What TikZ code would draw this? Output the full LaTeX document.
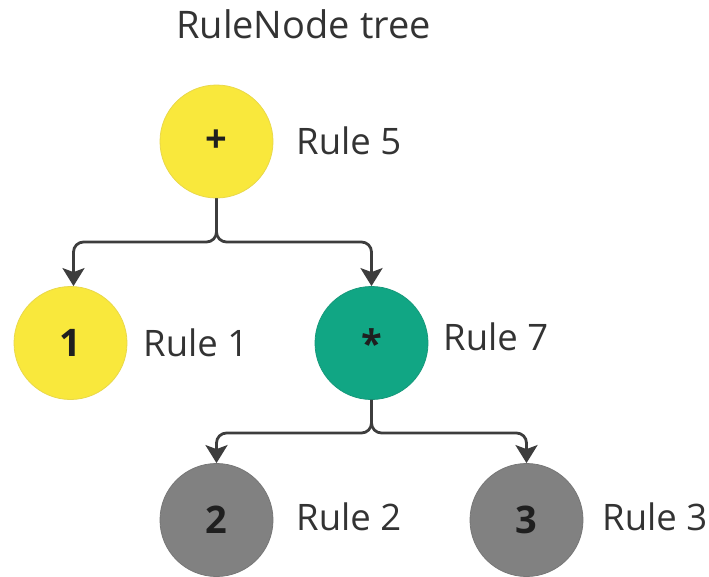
\documentclass[tikz,border=0pt]{standalone}
\usepackage{fontspec}
\setmainfont{Open Sans}
\usetikzlibrary{arrows.meta}
\definecolor{ryellow}{HTML}{F9E83C}
\definecolor{ryellowb}{HTML}{E9D84A}
\definecolor{rteal}{HTML}{11A684}
\definecolor{rtealb}{HTML}{16997B}
\definecolor{rgray}{HTML}{818181}
\definecolor{rgrayb}{HTML}{777777}
\definecolor{rink}{HTML}{333333}
\definecolor{rline}{HTML}{3D3D3D}
\tikzset{
  op/.style={circle, minimum size=113pt, inner sep=0pt, line width=0.8pt,
    font=\fontsize{38}{40}\selectfont\bfseries, text=black!88},
  opyellow/.style={op, fill=ryellow, draw=ryellowb},
  opteal/.style={op, fill=rteal, draw=rtealb},
  opgray/.style={op, fill=rgray, draw=rgrayb},
  rulelabel/.style={anchor=base west, inner sep=0pt, text=rink,
    font=\fontsize{36.5}{40}\selectfont},
  link/.style={draw=rline, line width=2.8pt, rounded corners=10pt,
    -{Stealth[width=22pt,length=18pt,inset=4pt]}}
}
\begin{document}
\begin{tikzpicture}[x=1pt,y=-1pt]
\useasboundingbox (0,0) rectangle (709,576);

% title
\node[anchor=base west, inner sep=0pt, text=rink, font=\fontsize{38}{42}\selectfont]
  (title) at (176,38) {RuleNode tree};

% tree nodes
\node[opyellow] (plus) at (216.5,141.5) {+};
\node[opyellow] (one)  at (70.5,343) {1};
\node[opteal]   (mul)  at (371.5,343) {*};
\node[opgray]   (two)  at (216.5,520) {2};
\node[opgray]   (three) at (526.5,520) {3};

% rule labels
\node[rulelabel] (l5) at (296,154) {Rule 5};
\node[rulelabel] (l1) at (143,356) {Rule 1};
\node[rulelabel] (l7) at (443,350) {Rule 7};
\node[rulelabel] (l2) at (296,530) {Rule 2};
\node[rulelabel] (l3) at (602,530) {Rule 3};

% connectors
\coordinate (j1) at (216.5,242);
\coordinate (j2) at (371.5,433);
\draw[link] (plus.south) -- (j1) -| ([xshift=3pt]one.north);
\draw[link] (plus.south) -- (j1) -| (mul.north);
\draw[link] (mul.south) -- (j2) -| (two.north);
\draw[link] (mul.south) -- (j2) -| (three.north);
\end{tikzpicture}
\end{document}
